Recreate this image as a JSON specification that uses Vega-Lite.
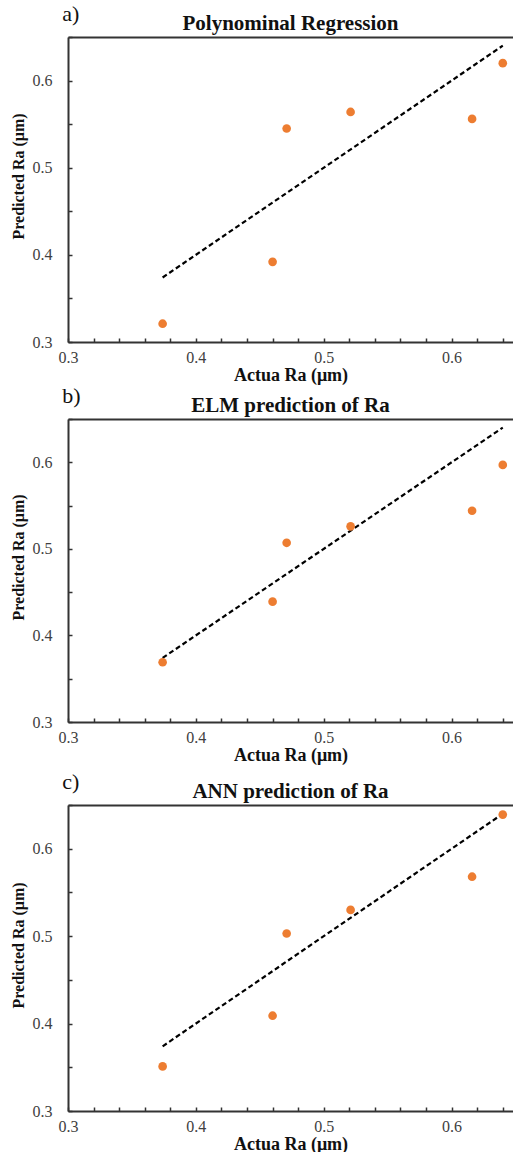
{
  "$schema": "https://vega.github.io/schema/vega-lite/v6.json",
  "padding": {"left": 10, "right": 0, "top": 3, "bottom": 0},
  "config": {
    "font": "Liberation Serif",
    "view": {"stroke": null},
    "axis": {"grid": false, "domainColor": "#333333", "domainWidth": 2, "tickColor": "#333333", "tickWidth": 1.5, "tickSize": -4, "labelFont": "Liberation Serif", "labelFontSize": 16, "labelColor": "#404040", "titleFont": "Liberation Serif", "titleFontWeight": "bold", "titleColor": "#111111", "labelFlush": false, "labelOverlap": false},
    "axisX": {"titleFontSize": 18, "labelPadding": 11, "titlePadding": 1, "values": [0.3, 0.32, 0.34, 0.36, 0.38, 0.4, 0.42, 0.44, 0.46, 0.48, 0.5, 0.52, 0.54, 0.56, 0.58, 0.6, 0.62, 0.64], "labelExpr": "abs(datum.value*10 - round(datum.value*10)) < 0.01 ? format(datum.value, '.1f') : ''"},
    "axisY": {"titleFontSize": 16, "labelPadding": 20, "titlePadding": 6, "values": [0.3, 0.32, 0.34, 0.36, 0.38, 0.4, 0.42, 0.44, 0.46, 0.48, 0.5, 0.52, 0.54, 0.56, 0.58, 0.6, 0.62, 0.64], "labelExpr": "abs(datum.value*10 - round(datum.value*10)) < 0.01 ? format(datum.value, '.1f') : ''"},
    "title": {"font": "Liberation Serif", "fontSize": 21, "fontWeight": "bold", "color": "#111111", "offset": -31}
  },
  "datasets": {
    "points": [
      {"panel": "a", "x": 0.374, "y": 0.321}, {"panel": "a", "x": 0.46, "y": 0.392}, {"panel": "a", "x": 0.471, "y": 0.545}, {"panel": "a", "x": 0.521, "y": 0.564}, {"panel": "a", "x": 0.616, "y": 0.556}, {"panel": "a", "x": 0.64, "y": 0.62},
      {"panel": "b", "x": 0.374, "y": 0.369}, {"panel": "b", "x": 0.46, "y": 0.439}, {"panel": "b", "x": 0.471, "y": 0.507}, {"panel": "b", "x": 0.521, "y": 0.526}, {"panel": "b", "x": 0.616, "y": 0.544}, {"panel": "b", "x": 0.64, "y": 0.597},
      {"panel": "c", "x": 0.374, "y": 0.351}, {"panel": "c", "x": 0.46, "y": 0.409}, {"panel": "c", "x": 0.471, "y": 0.503}, {"panel": "c", "x": 0.521, "y": 0.53}, {"panel": "c", "x": 0.616, "y": 0.568}, {"panel": "c", "x": 0.64, "y": 0.639}
    ],
    "ref": [
      {"panel": "a", "x": 0.374, "y": 0.374}, {"panel": "a", "x": 0.64, "y": 0.64},
      {"panel": "b", "x": 0.374, "y": 0.374}, {"panel": "b", "x": 0.64, "y": 0.64},
      {"panel": "c", "x": 0.374, "y": 0.374}, {"panel": "c", "x": 0.64, "y": 0.64}
    ],
    "labels": [
      {"panel": "a", "label": "a)"}, {"panel": "b", "label": "b)"}, {"panel": "c", "label": "c)"}
    ]
  },
  "spacing": 7,
  "vconcat": [
    {
      "spacing": 1,
      "vconcat": [
        {
          "width": 445, "height": 305,
          "title": {"text": "Polynominal Regression"},
          "resolve": {"axis": {"x": "independent"}},
          "layer": [
            {"data": {"name": "ref"}, "transform": [{"filter": "datum.panel == 'a'"}],
             "mark": {"type": "line", "color": "#000000", "strokeDash": [5, 3], "strokeWidth": 2.2},
             "encoding": {
               "x": {"field": "x", "type": "quantitative", "scale": {"domain": [0.3, 0.648], "nice": false, "zero": false}, "axis": {"orient": "top", "labels": false, "ticks": false, "title": null, "domain": true}},
               "y": {"field": "y", "type": "quantitative", "scale": {"domain": [0.3, 0.65], "nice": false, "zero": false}, "axis": {"title": "Predicted Ra (μm)", "titleY": 139}}}},
            {"data": {"name": "points"}, "transform": [{"filter": "datum.panel == 'a'"}],
             "mark": {"type": "circle", "color": "#ED7D31", "opacity": 1, "size": 75},
             "encoding": {
               "x": {"field": "x", "type": "quantitative", "scale": {"domain": [0.3, 0.648], "nice": false, "zero": false}, "axis": {"orient": "bottom", "title": "Actua Ra (μm)"}},
               "y": {"field": "y", "type": "quantitative", "scale": {"domain": [0.3, 0.65], "nice": false, "zero": false}, "axis": {"title": "Predicted Ra (μm)", "titleY": 139}}}},
            {"data": {"name": "labels"}, "transform": [{"filter": "datum.panel == 'a'"}],
             "mark": {"type": "text", "align": "left", "baseline": "alphabetic", "fontSize": 22, "font": "Liberation Serif", "color": "#111111"},
             "encoding": {
               "x": {"datum": 0.2955, "type": "quantitative", "axis": null},
               "y": {"datum": 0.668, "type": "quantitative", "axis": {"title": "Predicted Ra (μm)", "titleY": 139}},
               "text": {"field": "label"}}}
          ]
        },
        {
          "width": 445, "height": 303,
          "title": {"text": "ELM prediction of Ra"},
          "resolve": {"axis": {"x": "independent"}},
          "layer": [
            {"data": {"name": "ref"}, "transform": [{"filter": "datum.panel == 'b'"}],
             "mark": {"type": "line", "color": "#000000", "strokeDash": [5, 3], "strokeWidth": 2.2},
             "encoding": {
               "x": {"field": "x", "type": "quantitative", "scale": {"domain": [0.3, 0.648], "nice": false, "zero": false}, "axis": {"orient": "top", "labels": false, "ticks": false, "title": null, "domain": true}},
               "y": {"field": "y", "type": "quantitative", "scale": {"domain": [0.3, 0.65], "nice": false, "zero": false}, "axis": {"title": "Predicted Ra (μm)", "titleY": 138}}}},
            {"data": {"name": "points"}, "transform": [{"filter": "datum.panel == 'b'"}],
             "mark": {"type": "circle", "color": "#ED7D31", "opacity": 1, "size": 75},
             "encoding": {
               "x": {"field": "x", "type": "quantitative", "scale": {"domain": [0.3, 0.648], "nice": false, "zero": false}, "axis": {"orient": "bottom", "title": "Actua Ra (μm)"}},
               "y": {"field": "y", "type": "quantitative", "scale": {"domain": [0.3, 0.65], "nice": false, "zero": false}, "axis": {"title": "Predicted Ra (μm)", "titleY": 138}}}},
            {"data": {"name": "labels"}, "transform": [{"filter": "datum.panel == 'b'"}],
             "mark": {"type": "text", "align": "left", "baseline": "alphabetic", "fontSize": 22, "font": "Liberation Serif", "color": "#111111"},
             "encoding": {
               "x": {"datum": 0.2955, "type": "quantitative", "axis": null},
               "y": {"datum": 0.668, "type": "quantitative", "axis": {"title": "Predicted Ra (μm)", "titleY": 138}},
               "text": {"field": "label"}}}
          ]
        }
      ]
    },
    {
      "width": 445, "height": 306,
      "title": {"text": "ANN prediction of Ra"},
      "resolve": {"axis": {"x": "independent"}},
      "layer": [
        {"data": {"name": "ref"}, "transform": [{"filter": "datum.panel == 'c'"}],
         "mark": {"type": "line", "color": "#000000", "strokeDash": [5, 3], "strokeWidth": 2.2},
         "encoding": {
           "x": {"field": "x", "type": "quantitative", "scale": {"domain": [0.3, 0.648], "nice": false, "zero": false}, "axis": {"orient": "top", "labels": false, "ticks": false, "title": null, "domain": true}},
           "y": {"field": "y", "type": "quantitative", "scale": {"domain": [0.3, 0.65], "nice": false, "zero": false}, "axis": {"title": "Predicted Ra (μm)", "titleY": 140}}}},
        {"data": {"name": "points"}, "transform": [{"filter": "datum.panel == 'c'"}],
         "mark": {"type": "circle", "color": "#ED7D31", "opacity": 1, "size": 75},
         "encoding": {
           "x": {"field": "x", "type": "quantitative", "scale": {"domain": [0.3, 0.648], "nice": false, "zero": false}, "axis": {"orient": "bottom", "title": "Actua Ra (μm)"}},
           "y": {"field": "y", "type": "quantitative", "scale": {"domain": [0.3, 0.65], "nice": false, "zero": false}, "axis": {"title": "Predicted Ra (μm)", "titleY": 140}}}},
        {"data": {"name": "labels"}, "transform": [{"filter": "datum.panel == 'c'"}],
         "mark": {"type": "text", "align": "left", "baseline": "alphabetic", "fontSize": 22, "font": "Liberation Serif", "color": "#111111"},
         "encoding": {
           "x": {"datum": 0.2955, "type": "quantitative", "axis": null},
           "y": {"datum": 0.668, "type": "quantitative", "axis": {"title": "Predicted Ra (μm)", "titleY": 140}},
           "text": {"field": "label"}}}
      ]
    }
  ]
}
